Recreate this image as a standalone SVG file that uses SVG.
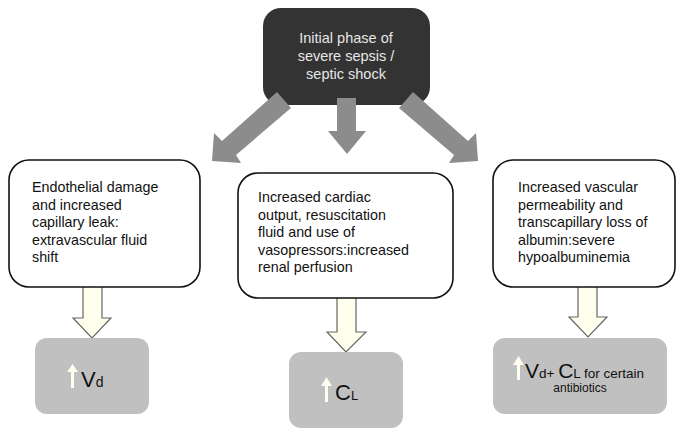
<svg xmlns="http://www.w3.org/2000/svg" width="678" height="428" viewBox="0 0 678 428">
<style>
.t{font-family:"Liberation Sans",Arial,sans-serif;font-size:14.3px;fill:#111}
.top{font-family:"Liberation Sans",Arial,sans-serif;font-size:14.5px;fill:#e6e6e6}
.box{fill:#fff;stroke:#111;stroke-width:1.6}
.res{fill:#c0c0c0}
.big{font-family:"Liberation Sans",Arial,sans-serif;fill:#111}
.ga{fill:#8c8c8c}
.ca{fill:#ffffee;stroke:#666;stroke-width:1.2}
.ua{fill:#fffff0}
</style>
<g id="start">
<rect x="263" y="8" width="167" height="97" rx="18" fill="#333"/>
<text class="top" text-anchor="middle"><tspan x="346" y="43">Initial phase of</tspan><tspan x="346" y="61">severe sepsis /</tspan><tspan x="346" y="79">septic shock</tspan></text>
</g>
<g id="connectors">
<path class="ga" d="M277,92 L291,108 L236,155 L241,163 L212,161 L214,133 L222,141 Z"/>
<path class="ga" d="M337,98 L356,98 L356,131 L366,131 L347,154 L328,131 L337,131 Z"/>
<path class="ga" d="M413,92 L399,108 L454,155 L449,163 L478,161 L476,133 L468,141 Z"/>
<path class="ca" d="M83,275 L102,275 L102,318 L111,318 L92,338 L73,318 L83,318 Z"/>
<path class="ca" d="M337,287 L356,287 L356,332 L366,332 L346,352 L327,332 L337,332 Z"/>
<path class="ca" d="M578,275 L597,275 L597,317 L607,317 L588,337 L569,317 L578,317 Z"/>
</g>
<g id="n1">
<rect class="box" x="9" y="160" width="191" height="127" rx="20"/>
<text class="t"><tspan x="32" y="192">Endothelial damage</tspan><tspan x="32" y="209.5">and increased</tspan><tspan x="32" y="227">capillary leak:</tspan><tspan x="32" y="244.5">extravascular fluid</tspan><tspan x="32" y="262">shift</tspan></text>
</g>
<g id="n2">
<rect class="box" x="238" y="173" width="215" height="125" rx="20"/>
<text class="t"><tspan x="258" y="202">Increased cardiac</tspan><tspan x="258" y="219.5">output, resuscitation</tspan><tspan x="258" y="237">fluid and use of</tspan><tspan x="258" y="254.5">vasopressors:increased</tspan><tspan x="258" y="272">renal perfusion</tspan></text>
</g>
<g id="n3">
<rect class="box" x="493" y="160" width="182" height="127" rx="20"/>
<text class="t"><tspan x="518" y="192">Increased vascular</tspan><tspan x="518" y="209.5">permeability and</tspan><tspan x="518" y="227">transcapillary loss of</tspan><tspan x="518" y="244.5">albumin:severe</tspan><tspan x="518" y="262">hypoalbuminemia</tspan></text>
</g>
<g id="r1">
<rect class="res" x="35" y="338" width="114" height="76" rx="12"/>
<path class="ua" d="M71,388 L71,372 L67,372 L72.5,364 L78,372 L74,372 L74,388 Z"/>
<text class="big" x="81" y="387" font-size="22">V<tspan font-size="14">d</tspan></text>
</g>
<g id="r2">
<rect class="res" x="289" y="352" width="114" height="76" rx="12"/>
<path class="ua" d="M325,402 L325,386 L321,386 L326.5,377 L332,386 L328,386 L328,402 Z"/>
<text class="big" x="335" y="400" font-size="22">C<tspan font-size="13">L</tspan></text>
</g>
<g id="r3">
<rect class="res" x="493" y="338" width="174" height="76" rx="12"/>
<path class="ua" d="M517,380 L517,365 L513,365 L518.5,356 L524,365 L520,365 L520,380 Z"/>
<text class="big" x="525" y="378" font-size="21">V<tspan font-size="13.5">d+ </tspan>C<tspan font-size="13.5">L for certain</tspan></text>
<text class="big" x="580" y="392" font-size="12" text-anchor="middle">antibiotics</text>
</g>
</svg>
